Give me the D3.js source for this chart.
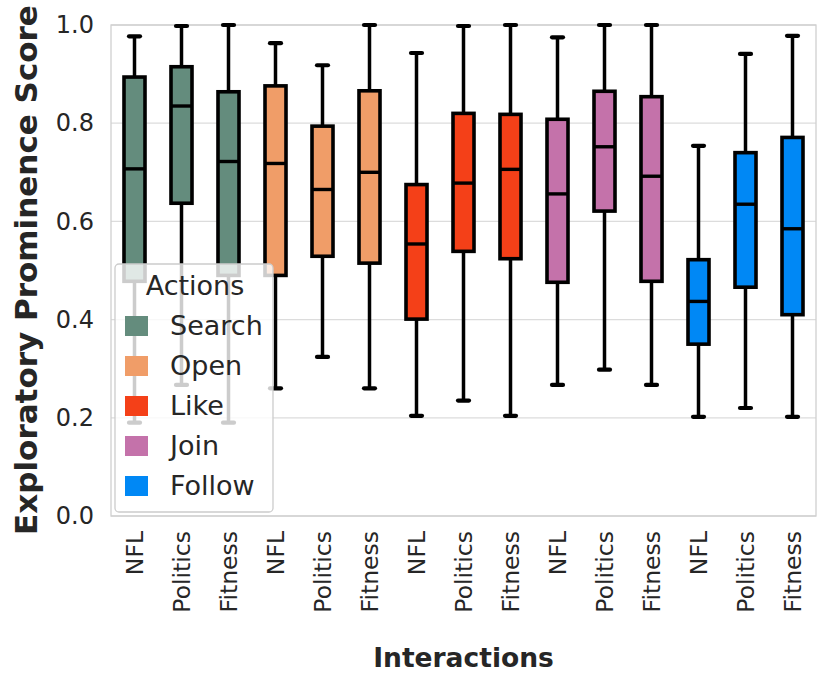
<!DOCTYPE html>
<html>
<head>
<meta charset="utf-8">
<script src="https://cdn.jsdelivr.net/npm/d3@7"></script>
<style>
  body { margin: 0; background: #fff; }
  text { font-family: "DejaVu Sans", sans-serif; fill: #262626; }
</style>
</head>
<body>
<div id="chart"></div>
<script>
// actions (hue groups) and topics on the x axis
const actions = ['Search', 'Open', 'Like', 'Join', 'Follow'];
const topics = ['NFL', 'Politics', 'Fitness'];
const colors = ['#648C7D', '#F09D68', '#F44018', '#C472AA', '#0088F5'];
const yTicks = [0.0, 0.2, 0.4, 0.6, 0.8, 1.0];

// box stats, one value per action x topic (15 boxes, in order)
const whiskLow = [0.19, 0.267, 0.19, 0.26, 0.324, 0.26, 0.204, 0.235, 0.204, 0.267, 0.298, 0.267, 0.202, 0.22, 0.202];
const q1 = [0.478, 0.637, 0.49, 0.49, 0.529, 0.515, 0.401, 0.539, 0.524, 0.476, 0.621, 0.478, 0.35, 0.466, 0.41];
const median = [0.707, 0.835, 0.722, 0.718, 0.665, 0.70, 0.554, 0.678, 0.706, 0.656, 0.752, 0.692, 0.437, 0.635, 0.585];
const q3 = [0.894, 0.915, 0.864, 0.876, 0.794, 0.866, 0.675, 0.82, 0.818, 0.808, 0.865, 0.854, 0.522, 0.74, 0.771];
const whiskHigh = [0.977, 0.998, 1.0, 0.963, 0.918, 1.0, 0.943, 0.998, 1.0, 0.975, 1.0, 1.0, 0.754, 0.941, 0.978];

const width = 830;
const height = 687;
const margin = { top: 25, bottom: 171, left: 111, right: 14 };

const svg = d3.select('#chart')
  .append('svg')
  .attr('width', width)
  .attr('height', height);

const boxes = d3.range(actions.length * topics.length).map(i => ({
  i,
  action: Math.floor(i / topics.length),
  topic: topics[i % topics.length],
  lo: whiskLow[i], q1: q1[i], med: median[i], q3: q3[i], hi: whiskHigh[i]
}));

const x = d3.scaleBand()
  .domain(d3.range(boxes.length))
  .range([margin.left, width - margin.right]);

const y = d3.scaleLinear()
  .domain([0, 1])
  .range([height - margin.bottom, margin.top]);

//grid + frame
svg.append('g')
  .selectAll('line')
  .data(yTicks)
  .join('line')
  .attr('x1', margin.left).attr('x2', width - margin.right)
  .attr('y1', d => y(d)).attr('y2', d => y(d))
  .attr('stroke', '#dcdcdc')
  .attr('stroke-width', 1.3);

svg.append('rect')
  .attr('x', margin.left).attr('y', margin.top)
  .attr('width', width - margin.left - margin.right)
  .attr('height', height - margin.top - margin.bottom)
  .attr('fill', 'none')
  .attr('stroke', '#d0d0d0')
  .attr('stroke-width', 1.3);

// y axis
svg.append('g')
  .attr('transform', `translate(${margin.left},0)`)
  .call(d3.axisLeft(y).tickValues(yTicks).tickFormat(d3.format('.1f')).tickSize(0).tickPadding(17))
  .call(g => g.select('.domain').remove())
  .selectAll('text')
  .attr('font-size', 24)
  .attr('fill', '#262626');

// x axis
svg.append('g')
  .attr('transform', `translate(0,${height - margin.bottom})`)
  .call(d3.axisBottom(x).tickFormat(i => boxes[i].topic).tickSize(0))
  .call(g => g.select('.domain').remove())
  .selectAll('text')
  .attr('font-size', 23.5)
  .attr('fill', '#262626')
  .attr('text-anchor', 'end')
  .attr('dy', '0.35em')
  .attr('transform', 'translate(0,15) rotate(-90)')
  .attr('x', 0).attr('y', 0);

const bw = 21;
const cap = 5.5;
const gBox = svg.append('g')
  .selectAll('g')
  .data(boxes)
  .join('g')
  .attr('transform', d => `translate(${x(d.i) + x.bandwidth() / 2},0)`);

gBox.append('line')
  .attr('x1', 0).attr('x2', 0)
  .attr('y1', d => y(d.hi)).attr('y2', d => y(d.q3))
  .attr('stroke', '#000').attr('stroke-width', 3.5);
gBox.append('line')
  .attr('x1', 0).attr('x2', 0)
  .attr('y1', d => y(d.q1)).attr('y2', d => y(d.lo))
  .attr('stroke', '#000').attr('stroke-width', 3.5);
gBox.selectAll('.cap')
  .data(d => [d.hi, d.lo])
  .join('line')
  .attr('class', 'cap')
  .attr('x1', -cap).attr('x2', cap)
  .attr('y1', d => y(d)).attr('y2', d => y(d))
  .attr('stroke', '#000').attr('stroke-width', 4.2)
  .attr('stroke-linecap', 'round');
gBox.append('rect')
  .attr('x', -bw / 2)
  .attr('width', bw)
  .attr('y', d => y(d.q3))
  .attr('height', d => y(d.q1) - y(d.q3))
  .attr('fill', d => colors[d.action])
  .attr('stroke', '#000')
  .attr('stroke-width', 3.6);
gBox.append('line')
  .attr('x1', -bw / 2).attr('x2', bw / 2)
  .attr('y1', d => y(d.med)).attr('y2', d => y(d.med))
  .attr('stroke', '#000').attr('stroke-width', 3.4);

// axis titles
svg.append('text')
  .attr('transform', `translate(37,270) rotate(-90)`)
  .attr('text-anchor', 'middle')
  .attr('font-size', 31)
  .attr('font-weight', 'bold')
  .text('Exploratory Prominence Score');

svg.append('text')
  .attr('x', (margin.left + width - margin.right) / 2)
  .attr('y', 667)
  .attr('text-anchor', 'middle')
  .attr('font-size', 26.5)
  .attr('font-weight', 'bold')
  .text('Interactions');

// legend
const lg = svg.append('g').attr('transform', 'translate(115,264)');
lg.append('rect')
  .attr('width', 158).attr('height', 248)
  .attr('rx', 4)
  .attr('fill', '#fff').attr('fill-opacity', 0.8)
  .attr('stroke', '#cccccc').attr('stroke-width', 1.3);
lg.append('text')
  .attr('x', 80).attr('y', 31)
  .attr('text-anchor', 'middle')
  .attr('font-size', 27)
  .text('Actions');
const items = lg.selectAll('.item')
  .data(actions)
  .join('g')
  .attr('class', 'item')
  .attr('transform', (d, i) => `translate(0,${52 + i * 40})`);
items.append('rect')
  .attr('x', 10).attr('width', 23).attr('height', 20)
  .attr('fill', (d, i) => colors[i]);
items.append('text')
  .attr('x', 55).attr('y', 10)
  .attr('dy', '0.35em')
  .attr('font-size', 27)
  .text(d => d);
</script>
</body>
</html>
